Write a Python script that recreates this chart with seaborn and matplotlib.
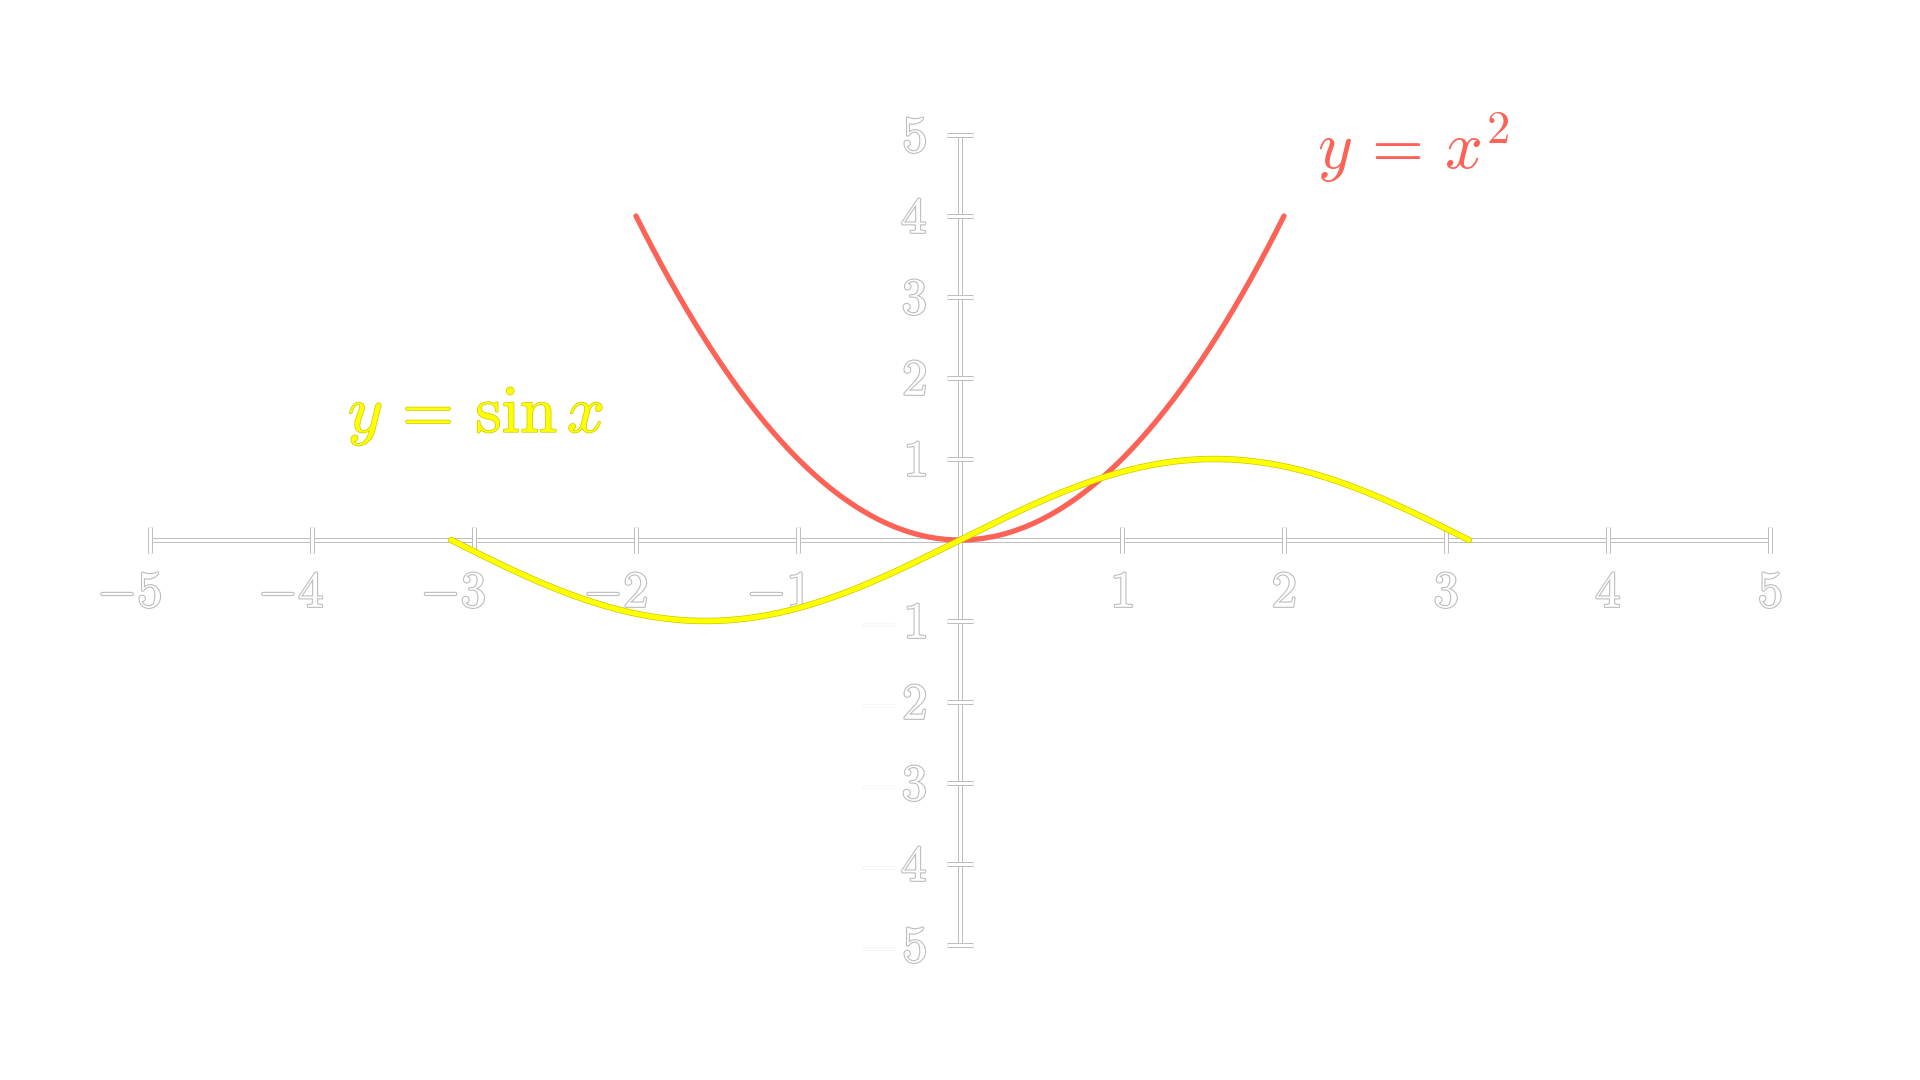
import numpy as np
import pandas as pd
import matplotlib
matplotlib.use("Agg")
import matplotlib.pyplot as plt
import matplotlib.patheffects as pe
import seaborn as sns

# curves shown in the reference (y = x^2 on [-2, 2], y = sin x on [-pi, pi])
x_square = np.linspace(-2, 2, 300)
y_square = x_square ** 2
x_sine = np.linspace(-np.pi, np.pi, 300)
y_sine = np.sin(x_sine)

x_ticks = [-5, -4, -3, -2, -1, 1, 2, 3, 4, 5]
y_ticks = [-5, -4, -3, -2, -1, 1, 2, 3, 4, 5]
axis_range = [-5, 5]

label_square = r"$y\,=\,x^2$"
label_sine = r"$y\,=\,\sin x$"

RED = "#FC6255"
YELLOW = "#FFFF00"
EDGE = "#bdbdbd"

sns.set_theme(style="white")
plt.rcParams["mathtext.fontset"] = "cm"

# pixel scale: 162 px per x unit, 81 px per y unit, origin at centre
fig = plt.figure(figsize=(19.2, 10.8), dpi=100)
ax = fig.add_axes([0, 0, 1, 1])
fig.patch.set_facecolor("white")

outline = [pe.Stroke(linewidth=3.6, foreground=EDGE), pe.Normal()]
text_outline = [pe.Stroke(linewidth=1.6, foreground=EDGE), pe.Normal()]

# axes with ticks
tick_x = 13 / 162
tick_y = 13 / 81
ax.plot(axis_range, [0, 0], color="white", lw=2.2, path_effects=outline,
        solid_capstyle="butt", zorder=1)
ax.plot([0, 0], axis_range, color="white", lw=2.2, path_effects=outline,
        solid_capstyle="butt", zorder=1)
for t in x_ticks:
    ax.plot([t, t], [-tick_y, tick_y], color="white", lw=2.2,
            path_effects=outline, solid_capstyle="butt", zorder=1)
for t in y_ticks:
    ax.plot([-tick_x, tick_x], [t, t], color="white", lw=2.2,
            path_effects=outline, solid_capstyle="butt", zorder=1)

# tick labels
fs = 37
for t in x_ticks:
    if t < 0:
        ax.text(t + 12 / 162, -67 / 81, f"$-{abs(t)}$", fontsize=fs,
                color="white", ha="right", va="baseline",
                path_effects=text_outline, zorder=2)
    else:
        ax.text(t, -67 / 81, f"${t}$", fontsize=fs, color="white",
                ha="center", va="baseline", path_effects=text_outline, zorder=2)
for t in y_ticks:
    ax.text(-33 / 162, t - 17 / 81, f"${abs(t)}$", fontsize=fs, color="white",
            ha="right", va="baseline", path_effects=text_outline, zorder=2)
    if t < 0:
        # the minus of the y labels is almost invisible in the reference
        ax.text(-63 / 162, t - 17 / 81, "$-$", fontsize=fs, color="white",
                ha="right", va="baseline",
                path_effects=[pe.Stroke(linewidth=1.0, foreground="#f2f2f2"),
                              pe.Normal()], zorder=2)

# curves
sq = pd.DataFrame({"x": x_square, "y": y_square})
sn = pd.DataFrame({"x": x_sine, "y": y_sine})
sns.lineplot(data=sq, x="x", y="y", ax=ax, color=RED, lw=3.8, sort=False,
             zorder=3)
sns.lineplot(data=sn, x="x", y="y", ax=ax, color=YELLOW, lw=3.6, sort=False,
             zorder=4,
             path_effects=[pe.Stroke(linewidth=4.6, foreground="#c9c900"),
                           pe.Normal()])
ax.set_xlim(-960 / 162, 960 / 162)
ax.set_ylim(-540 / 81, 540 / 81)
ax.axis("off")

# curve labels
ax.text((1317 - 960) / 162, (540 - 169) / 81, label_square, fontsize=48,
        color=RED, ha="left", va="baseline", zorder=5)
ax.text((348 - 960) / 162, (540 - 432) / 81, label_sine, fontsize=48,
        color=YELLOW, ha="left", va="baseline", zorder=5,
        path_effects=[pe.Stroke(linewidth=1.0, foreground="#c9c900"),
                      pe.Normal()])

fig.savefig("out.png", dpi=100, facecolor="white")
